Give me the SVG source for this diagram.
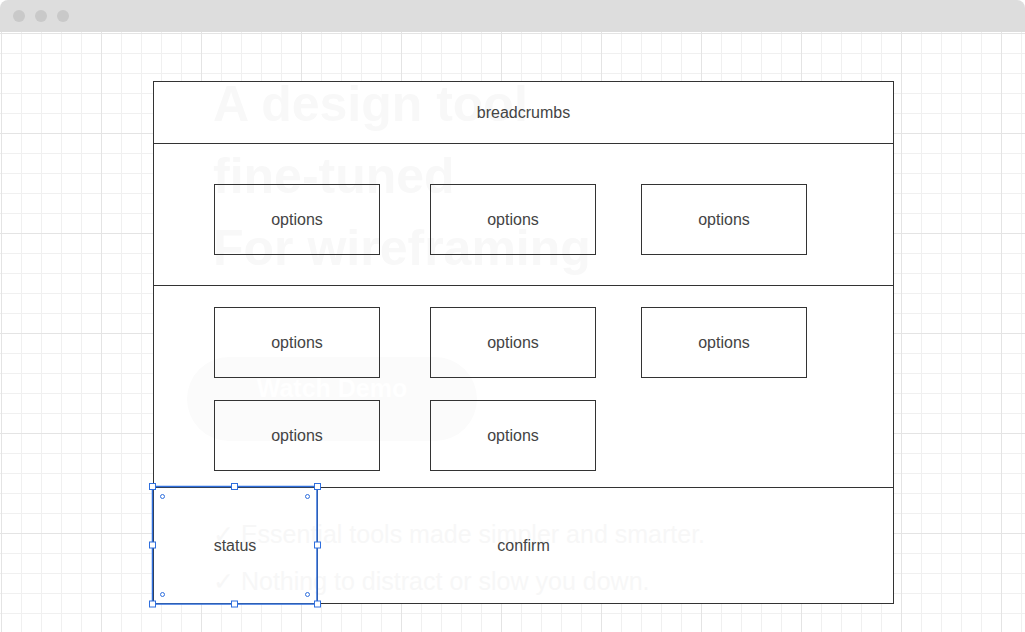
<svg xmlns="http://www.w3.org/2000/svg" width="1025" height="632" viewBox="0 0 1025 632">
<style>
.lbl{font-family:"Liberation Sans",Arial,sans-serif;font-size:16px;fill:#444;text-anchor:middle;dominant-baseline:central}
.box{fill:none;stroke:#333;stroke-width:1}
.ghost{font-family:"Liberation Sans",Arial,sans-serif;font-weight:bold;fill:#f8f8f8}
.ghost2{font-family:"Liberation Sans",Arial,sans-serif;fill:#f7f7f7}
.h{fill:#fff;stroke:#2f6fde;stroke-width:1}
.c{fill:#fff;stroke:#2f6fde;stroke-width:1}
</style>
<defs>
<pattern id="minor" x="1" y="33" width="20" height="20" patternUnits="userSpaceOnUse"><path d="M0.5 0V20M0 0.5H20" stroke="#f0f0f0" stroke-width="1" fill="none"/></pattern>
<pattern id="major" x="1" y="33" width="100" height="100" patternUnits="userSpaceOnUse"><path d="M0.5 0V100M0 0.5H100" stroke="#e4e4e4" stroke-width="1" fill="none"/></pattern>
</defs>
<rect width="1025" height="632" fill="#fff"/>
<g id="window">
<rect x="0" y="32" width="1025" height="600" fill="url(#minor)"/>
<rect x="0" y="32" width="1025" height="600" fill="url(#major)"/>
<path d="M0 32V8A8 8 0 0 1 8 0H1017A8 8 0 0 1 1025 8V32Z" fill="#dddddd"/>
<circle cx="19" cy="16" r="6" fill="#c9c9c9"/>
<circle cx="41" cy="16" r="6" fill="#c9c9c9"/>
<circle cx="63" cy="16" r="6" fill="#c9c9c9"/>
</g>
<g id="frame">
<rect x="153.5" y="81.5" width="740" height="522" fill="#fff" stroke="none"/>
</g>
<g id="ghost">
<text class="ghost" x="213" y="121" font-size="50">A design tool</text>
<text class="ghost" x="213" y="193" font-size="50">fine-tuned</text>
<text class="ghost" x="213" y="265" font-size="50">For wireframing</text>
<rect x="187" y="357" width="290" height="84" rx="42" fill="#fbfbfb"/>
<text x="332" y="397" font-size="25" font-weight="bold" font-family="'Liberation Sans',Arial,sans-serif" fill="#ffffff" text-anchor="middle">Watch Demo</text>
<text class="ghost2" x="213" y="543" font-size="25">✓ Essential tools made simpler and smarter.</text>
<text class="ghost2" x="213" y="590" font-size="25">✓ Nothing to distract or slow you down.</text>
</g>
<g id="connectors"></g>
<g id="breadcrumbs">
<rect class="box" x="153.5" y="81.5" width="740" height="62"/>
<text class="lbl" x="523.5" y="112.5">breadcrumbs</text>
</g>
<g id="section1">
<rect class="box" x="153.5" y="143.5" width="740" height="142"/>
</g>
<g id="section2">
<rect class="box" x="153.5" y="285.5" width="740" height="202"/>
</g>
<g id="opt1"><rect class="box" x="214.5" y="184.5" width="165" height="70"/><text class="lbl" x="297" y="219.5">options</text></g>
<g id="opt2"><rect class="box" x="430.5" y="184.5" width="165" height="70"/><text class="lbl" x="513" y="219.5">options</text></g>
<g id="opt3"><rect class="box" x="641.5" y="184.5" width="165" height="70"/><text class="lbl" x="724" y="219.5">options</text></g>
<g id="opt4"><rect class="box" x="214.5" y="307.5" width="165" height="70"/><text class="lbl" x="297" y="342.5">options</text></g>
<g id="opt5"><rect class="box" x="430.5" y="307.5" width="165" height="70"/><text class="lbl" x="513" y="342.5">options</text></g>
<g id="opt6"><rect class="box" x="641.5" y="307.5" width="165" height="70"/><text class="lbl" x="724" y="342.5">options</text></g>
<g id="opt7"><rect class="box" x="214.5" y="400.5" width="165" height="70"/><text class="lbl" x="297" y="435.5">options</text></g>
<g id="opt8"><rect class="box" x="430.5" y="400.5" width="165" height="70"/><text class="lbl" x="513" y="435.5">options</text></g>
<g id="confirm">
<rect class="box" x="153.5" y="487.5" width="740" height="116"/>
<text class="lbl" x="523.5" y="545.5">confirm</text>
</g>
<g id="status">
<rect class="box" x="153.5" y="487.5" width="164" height="116"/>
<text class="lbl" x="235" y="545.5">status</text>
<rect x="152.5" y="486.5" width="164.5" height="117.5" fill="none" stroke="#2f6fde" stroke-width="1.5"/>
<rect class="h" x="149.5" y="483.5" width="6" height="6"/>
<rect class="h" x="231.5" y="483.5" width="6" height="6"/>
<rect class="h" x="314.5" y="483.5" width="6" height="6"/>
<rect class="h" x="149.5" y="542" width="6" height="6"/>
<rect class="h" x="314.5" y="542" width="6" height="6"/>
<rect class="h" x="149.5" y="601" width="6" height="6"/>
<rect class="h" x="231.5" y="601" width="6" height="6"/>
<rect class="h" x="314.5" y="601" width="6" height="6"/>
<circle class="c" cx="162.5" cy="496.5" r="2"/>
<circle class="c" cx="307.5" cy="496.5" r="2"/>
<circle class="c" cx="162.5" cy="594.5" r="2"/>
<circle class="c" cx="307.5" cy="594.5" r="2"/>
</g>
</svg>
